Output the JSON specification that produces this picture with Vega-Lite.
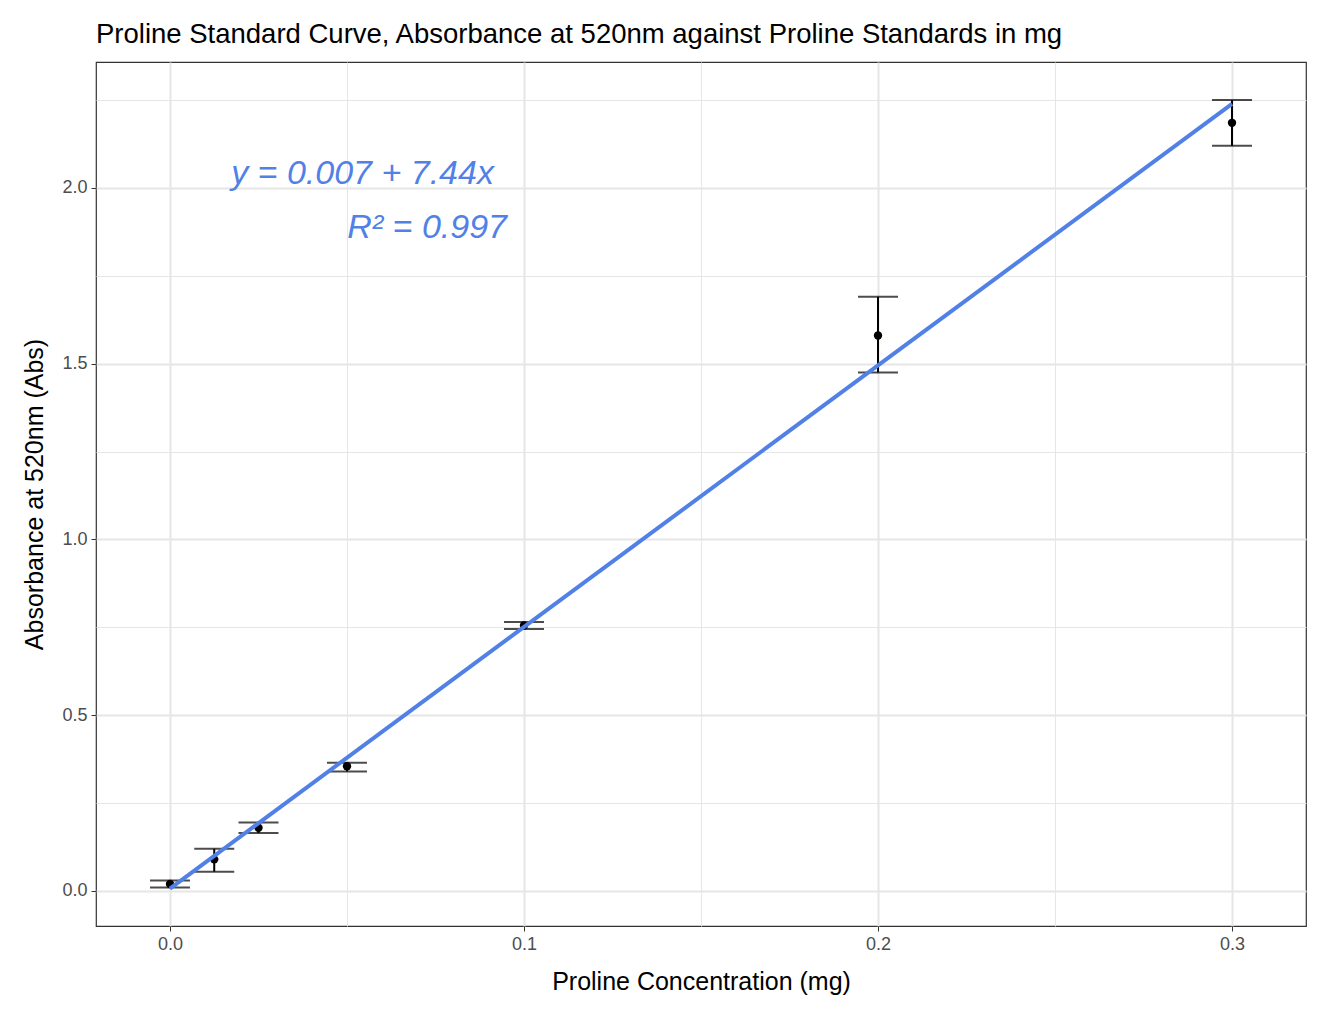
{
  "$schema": "https://vega.github.io/schema/vega-lite/v6.json",
  "width": 1210,
  "height": 864,
  "autosize": "none",
  "padding": {"left": 96, "top": 62, "right": 16, "bottom": 86},
  "background": "white",
  "title": {"text": "Proline Standard Curve, Absorbance at 520nm against Proline Standards in mg", "anchor": "start", "frame": "group", "fontSize": 27.5, "fontWeight": "normal", "font": "Liberation Sans", "offset": 14, "color": "black"},
  "config": {
    "font": "Liberation Sans",
    "view": {"stroke": "#333333", "strokeWidth": 1.2},
    "axis": {"labelFontSize": 18, "labelColor": "#4d4d4d", "titleFontSize": 25, "titleFontWeight": "normal", "titleColor": "black", "tickColor": "#333333", "domain": false, "gridColor": "#e6e6e6"}
  },
  "datasets": {
    "pts": [
      {"conc": 0, "abs": 0.02, "lo": 0.01, "hi": 0.03},
      {"conc": 0.0125, "abs": 0.09, "lo": 0.055, "hi": 0.12},
      {"conc": 0.025, "abs": 0.18, "lo": 0.165, "hi": 0.195},
      {"conc": 0.05, "abs": 0.355, "lo": 0.34, "hi": 0.365},
      {"conc": 0.1, "abs": 0.755, "lo": 0.745, "hi": 0.765},
      {"conc": 0.2, "abs": 1.58, "lo": 1.475, "hi": 1.69},
      {"conc": 0.3, "abs": 2.185, "lo": 2.12, "hi": 2.25}
    ],
    "fit": [
      {"conc": 0, "abs": 0.007},
      {"conc": 0.3, "abs": 2.239}
    ],
    "labels": [
      {"conc": 0.0915, "abs": 2.04, "label": "y = 0.007 + 7.44x"},
      {"conc": 0.0952, "abs": 1.885, "label": "R² = 0.997"}
    ]
  },
  "encoding": {
    "x": {"field": "conc", "type": "quantitative", "title": "Proline Concentration (mg)",
      "scale": {"domain": [-0.0209, 0.3209], "nice": false, "zero": false},
      "axis": {"values": [0, 0.05, 0.1, 0.15, 0.2, 0.25, 0.3], "labelExpr": "round(datum.value*20) % 2 == 1 ? '' : format(datum.value, '.1f')",
        "gridWidth": {"condition": {"test": "round(datum.value*20) % 2 == 1", "value": 1}, "value": 2},
        "tickOpacity": {"condition": {"test": "round(datum.value*20) % 2 == 1", "value": 0}, "value": 1},
        "tickSize": 5, "labelPadding": 4, "titlePadding": 16}},
    "y": {"field": "abs", "type": "quantitative", "title": "Absorbance at 520nm (Abs)",
      "scale": {"domain": [-0.0996, 2.358], "nice": false, "zero": false},
      "axis": {"values": [0, 0.25, 0.5, 0.75, 1, 1.25, 1.5, 1.75, 2, 2.25], "labelExpr": "round(datum.value*4) % 2 == 1 ? '' : format(datum.value, '.1f')",
        "gridWidth": {"condition": {"test": "round(datum.value*4) % 2 == 1", "value": 1}, "value": 2},
        "tickOpacity": {"condition": {"test": "round(datum.value*4) % 2 == 1", "value": 0}, "value": 1},
        "tickSize": 5, "labelPadding": 4, "titlePadding": 14}}
  },
  "layer": [
    {"data": {"name": "pts"}, "mark": {"type": "rule", "color": "black", "strokeWidth": 2},
      "encoding": {"y": {"field": "lo", "type": "quantitative"}, "y2": {"field": "hi"}}},
    {"data": {"name": "pts"}, "mark": {"type": "tick", "orient": "horizontal", "color": "black", "size": 40, "thickness": 2},
      "encoding": {"y": {"field": "lo", "type": "quantitative"}}},
    {"data": {"name": "pts"}, "mark": {"type": "tick", "orient": "horizontal", "color": "black", "size": 40, "thickness": 2},
      "encoding": {"y": {"field": "hi", "type": "quantitative"}}},
    {"data": {"name": "pts"}, "mark": {"type": "circle", "color": "black", "size": 70, "opacity": 1}},
    {"data": {"name": "fit"}, "mark": {"type": "line", "color": "#5181e6", "strokeWidth": 4}},
    {"data": {"name": "labels"}, "mark": {"type": "text", "align": "right", "baseline": "middle", "fontSize": 34, "fontStyle": "italic", "color": "#5181e6"},
      "encoding": {"text": {"field": "label"}}}
  ]
}
